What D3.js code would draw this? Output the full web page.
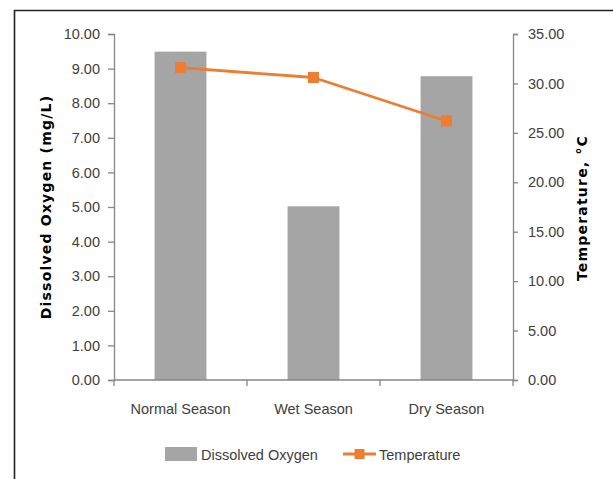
<!DOCTYPE html>
<html>
<head>
<meta charset="utf-8">
<script src="https://cdn.jsdelivr.net/npm/d3@7"></script>
<style>
  html, body { margin: 0; padding: 0; background: #fff; }
  svg { display: block; }
  .tick-label { font-family: "Liberation Sans", Arial, sans-serif; font-size: 14.5px; fill: #404040; }
  .axis-title { font-family: "DejaVu Sans", Verdana, sans-serif; font-size: 14px; font-weight: bold; fill: #000; letter-spacing: 1.2px; }
</style>
</head>
<body>
<svg id="chart" width="613" height="479"></svg>
<script>
// Seasonal water-quality readings
const categories = ["Normal Season", "Wet Season", "Dry Season"];
const oxygen = [9.49, 5.02, 8.78];        // Dissolved Oxygen, mg/L
const temperature = [31.6, 30.6, 26.2];   // Temperature, °C
const leftTicks = [0, 1, 2, 3, 4, 5, 6, 7, 8, 9, 10];
const rightTicks = [0, 5, 10, 15, 20, 25, 30, 35];
const seriesNames = ["Dissolved Oxygen", "Temperature"];

const svg = d3.select("#chart");
const plot = { left: 114, right: 513, top: 34, bottom: 380 };
const barColor = "#a5a5a5";
const lineColor = "#ed7d31";
const axisColor = "#868686";

// Outer frame (left and top edges)
svg.append("path")
  .attr("d", "M14.5,479 L14.5,10.5 L613,10.5")
  .attr("fill", "none").attr("stroke", "#222").attr("stroke-width", 1.6);

const x = d3.scaleBand()
  .domain(categories)
  .range([plot.left, plot.right])
  .paddingInner(0.61).paddingOuter(0.305);

const yLeft = d3.scaleLinear().domain([0, 10]).range([plot.bottom, plot.top]);
const yRight = d3.scaleLinear().domain([0, 35]).range([plot.bottom, plot.top]);

// Bars
svg.append("g").selectAll("rect")
  .data(categories)
  .join("rect")
  .attr("x", d => x(d))
  .attr("width", x.bandwidth())
  .attr("y", (d, i) => yLeft(oxygen[i]))
  .attr("height", (d, i) => yLeft(0) - yLeft(oxygen[i]))
  .attr("fill", barColor);

// Left axis
const gL = svg.append("g").attr("transform", `translate(${plot.left},0)`)
  .call(d3.axisLeft(yLeft).tickValues(leftTicks).tickSize(6).tickPadding(8).tickFormat(d3.format(".2f")));
gL.select(".domain").attr("stroke", axisColor).attr("stroke-width", 1.3);
gL.selectAll(".tick line").attr("stroke", axisColor).attr("stroke-width", 1.3);
gL.selectAll(".tick text").attr("class", "tick-label").attr("font-size", null).attr("font-family", null).attr("fill", null);
gL.attr("font-size", null).attr("font-family", null);

// Right axis
const gR = svg.append("g").attr("transform", `translate(${plot.right},0)`)
  .call(d3.axisRight(yRight).tickValues(rightTicks).tickSize(5).tickPadding(10).tickFormat(d3.format(".2f")));
gR.select(".domain").attr("stroke", axisColor).attr("stroke-width", 1.3);
gR.selectAll(".tick line").attr("stroke", axisColor).attr("stroke-width", 1.3);
gR.selectAll(".tick text").attr("class", "tick-label").attr("font-size", null).attr("font-family", null).attr("fill", null);
gR.attr("font-size", null).attr("font-family", null);

// Category axis with ticks between bands
const xBoundaries = categories.map(c => x(c) - x.step() * x.paddingInner() / 2).concat([plot.right]);
const gX = svg.append("g");
gX.append("line")
  .attr("x1", plot.left).attr("x2", plot.right)
  .attr("y1", plot.bottom).attr("y2", plot.bottom)
  .attr("stroke", axisColor).attr("stroke-width", 1.3);
gX.selectAll("line.tk").data(xBoundaries).join("line")
  .attr("class", "tk")
  .attr("x1", d => d).attr("x2", d => d)
  .attr("y1", plot.bottom).attr("y2", plot.bottom + 6)
  .attr("stroke", axisColor).attr("stroke-width", 1.3);
gX.selectAll("text").data(categories).join("text")
  .attr("class", "tick-label")
  .attr("x", d => x(d) + x.bandwidth() / 2)
  .attr("y", 414)
  .attr("text-anchor", "middle")
  .text(d => d);

// Temperature line with square markers
const line = d3.line()
  .x((d, i) => x(categories[i]) + x.bandwidth() / 2)
  .y(d => yRight(d));
svg.append("path")
  .datum(temperature)
  .attr("d", line)
  .attr("fill", "none")
  .attr("stroke", lineColor)
  .attr("stroke-width", 2.8)
  .attr("stroke-linejoin", "round");
const ms = 11;
svg.append("g").selectAll("rect")
  .data(temperature)
  .join("rect")
  .attr("x", (d, i) => x(categories[i]) + x.bandwidth() / 2 - ms / 2)
  .attr("y", d => yRight(d) - ms / 2)
  .attr("width", ms).attr("height", ms)
  .attr("fill", lineColor);

// Axis titles
svg.append("text")
  .attr("class", "axis-title")
  .attr("transform", `translate(51,207) rotate(-90)`)
  .attr("text-anchor", "middle")
  .text("Dissolved  Oxygen (mg/L)");
svg.append("text")
  .attr("class", "axis-title")
  .attr("transform", `translate(587,208) rotate(-90)`)
  .attr("text-anchor", "middle")
  .text("Temperature, °C");

// Legend
const lg = svg.append("g");
lg.append("rect").attr("x", 165).attr("y", 447).attr("width", 32).attr("height", 14).attr("fill", barColor);
lg.append("text").attr("class", "tick-label").attr("x", 201).attr("y", 460).text(seriesNames[0]);
lg.append("line").attr("x1", 343).attr("x2", 376).attr("y1", 454).attr("y2", 454)
  .attr("stroke", lineColor).attr("stroke-width", 2.8);
lg.append("rect").attr("x", 359.5 - 5).attr("y", 454 - 5).attr("width", 10).attr("height", 10).attr("fill", lineColor);
lg.append("text").attr("class", "tick-label").attr("x", 379).attr("y", 460).text(seriesNames[1]);
</script>
</body>
</html>
